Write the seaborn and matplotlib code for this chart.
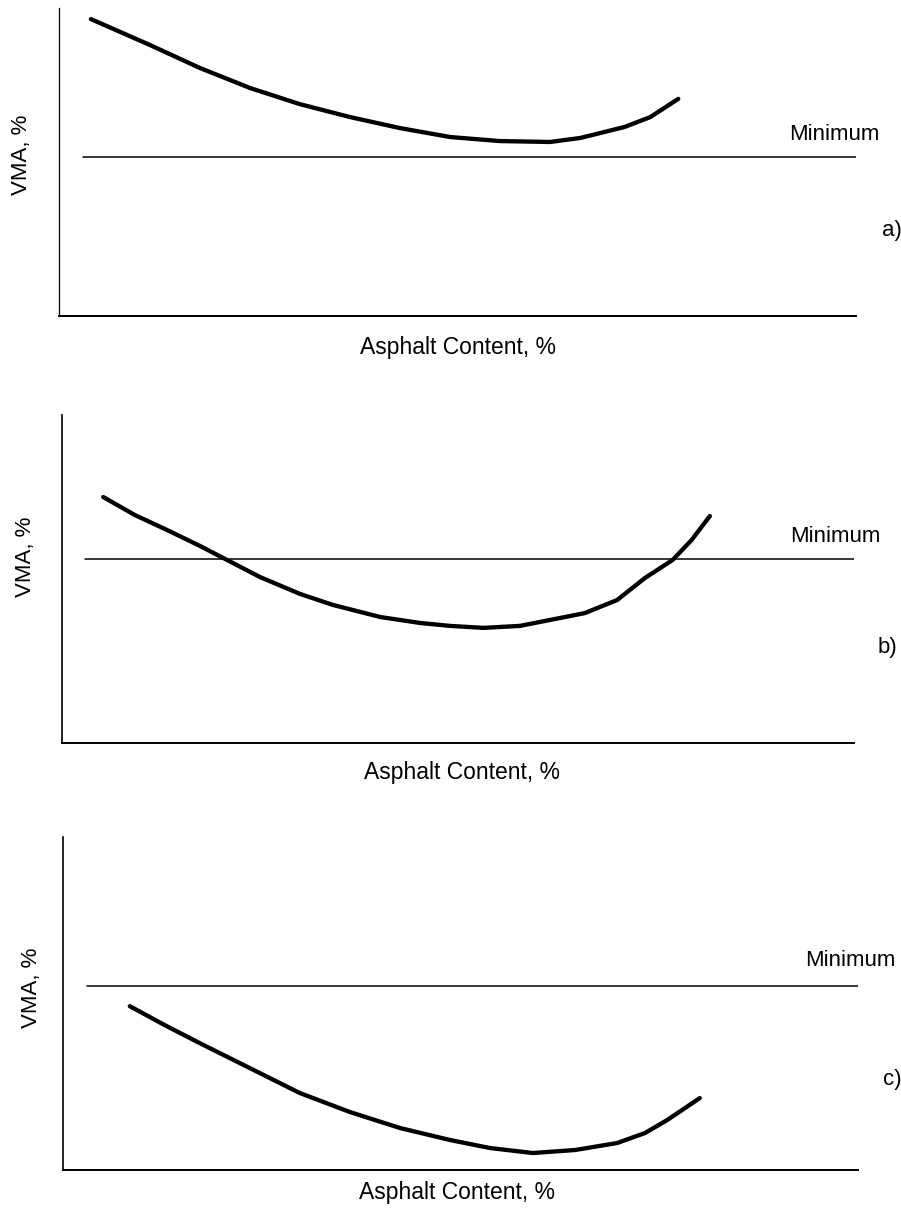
import numpy as np
import pandas as pd
import matplotlib
matplotlib.use("Agg")
import matplotlib.pyplot as plt
import seaborn as sns

# --- DATA (axis units 0-100) ---
panels = ["a)", "b)", "c)"]

a_x = [4.0, 7.7, 11.4, 17.7, 24.0, 30.2, 36.5, 42.8, 49.1, 55.3, 61.6, 65.4, 67.9, 71.0, 74.2, 77.7]
a_y = [96.4, 92.2, 88.0, 80.5, 74.0, 68.8, 64.6, 61.0, 58.1, 56.8, 56.5, 57.8, 59.4, 61.4, 64.6, 70.5]

b_x = [5.2, 9.2, 13.3, 17.4, 20.6, 25.0, 30.1, 34.2, 40.2, 45.2, 49.0, 53.2, 57.8, 61.6, 66.0, 70.1, 73.6, 77.1, 79.5, 81.8]
b_y = [75.0, 69.5, 64.9, 60.1, 56.1, 50.6, 45.4, 42.1, 38.4, 36.6, 35.7, 35.1, 35.7, 37.5, 39.6, 43.6, 50.3, 55.8, 61.9, 69.2]

c_x = [8.4, 12.8, 17.2, 23.5, 29.8, 36.1, 42.4, 48.7, 53.7, 59.1, 64.4, 69.7, 73.2, 76.0, 80.1]
c_y = [49.2, 43.5, 38.1, 30.6, 23.1, 17.4, 12.6, 9.0, 6.6, 5.1, 6.0, 8.1, 11.1, 15.0, 21.6]

min_vma = [51.6, 56.1, 55.3]
min_start = [3.0, 2.9, 3.0]

x_label = "Asphalt Content, %"
y_label = "VMA, %"
min_label = "Minimum"

# --- STYLE ---
sns.set_style("white")
plt.rcParams["font.family"] = ["Liberation Sans", "DejaVu Sans"]
plt.rcParams["text.color"] = "black"

W, H = 901, 1211
fig = plt.figure(figsize=(W / 100, H / 100), dpi=100)

# axes boxes in pixels: left, right, bottom, top
boxes = [(59, 856, 316, 8), (62, 854, 743, 415), (63, 858, 1170, 837)]
curves = [(a_x, a_y), (b_x, b_y), (c_x, c_y)]

# text anchors in pixels
xlab_pos = [(458, 348), (462, 772), (457, 1193)]
ylab_pos = [(22, 155), (25, 557), (31, 988)]
minlab_pos = [(834, 134), (835, 537), (850, 960)]
tag_pos = [(882, 230), (878, 647), (883, 1080)]

def fx(px):
    return px / W

def fy(py):
    return 1 - py / H

for i, (l, r, b, t) in enumerate(boxes):
    ax = fig.add_axes([fx(l), fy(b), (r - l) / W, (b - t) / H])
    cx, cy = curves[i]
    sns.lineplot(x=cx, y=cy, ax=ax, color="black", linewidth=3.1, sort=False,
                 solid_capstyle="round", solid_joinstyle="round")
    sns.lineplot(x=[min_start[i], 100], y=[min_vma[i], min_vma[i]], ax=ax,
                 color="black", linewidth=1.1)
    ax.set_xlim(0, 100)
    ax.set_ylim(0, 100)
    ax.set_xticks([])
    ax.set_yticks([])
    ax.set_facecolor("none")
    for s in ["top", "right"]:
        ax.spines[s].set_visible(False)
    ax.spines["left"].set_linewidth(0.9 if i == 0 else 1.2)
    ax.spines["bottom"].set_linewidth(1.4)
    ax.spines["left"].set_color("black")
    ax.spines["bottom"].set_color("black")

    fig.text(fx(xlab_pos[i][0]), fy(xlab_pos[i][1]), x_label, fontsize=16.5,
             ha="center", va="center")
    fig.text(fx(ylab_pos[i][0]), fy(ylab_pos[i][1]), y_label, fontsize=16,
             ha="center", va="center", rotation=90)
    fig.text(fx(minlab_pos[i][0]), fy(minlab_pos[i][1]), min_label, fontsize=16,
             ha="center", va="center")
    fig.text(fx(tag_pos[i][0]), fy(tag_pos[i][1]), panels[i], fontsize=16,
             ha="left", va="center")

fig.savefig("out.png", dpi=100, facecolor="white")
